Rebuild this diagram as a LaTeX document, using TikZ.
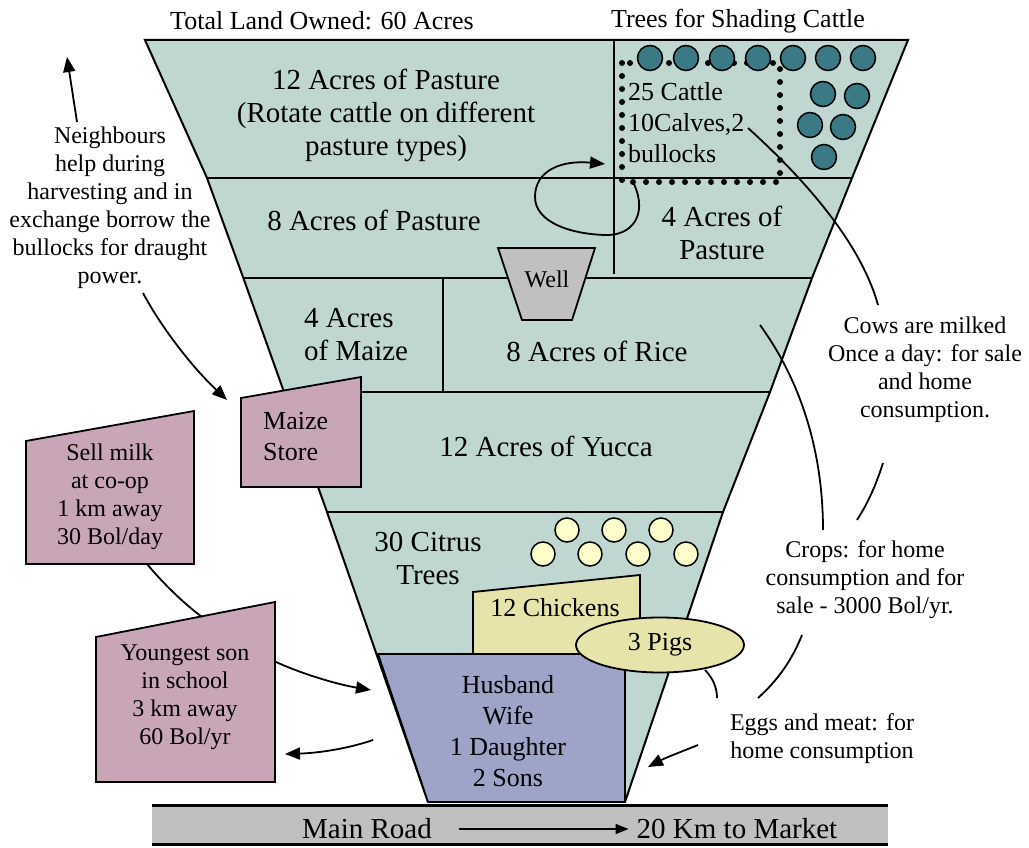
\documentclass[tikz,border=0pt]{standalone}
\usepackage{fontspec}
\setmainfont{Liberation Serif}
\usetikzlibrary{arrows.meta}
\definecolor{field}{RGB}{192,214,208}
\definecolor{teal2}{RGB}{59,122,133}
\definecolor{pinkbox}{RGB}{200,166,184}
\definecolor{famblue}{RGB}{158,163,200}
\definecolor{chick}{RGB}{230,228,170}
\definecolor{citrus}{RGB}{255,255,204}
\definecolor{wellgray}{RGB}{192,192,192}
\newcommand\FSbig{\fontsize{29}{33}\selectfont}
\newcommand\FSmid{\fontsize{26}{31}\selectfont}
\newcommand\FSsmall{\fontsize{24}{28}\selectfont}
\tikzset{
  edge/.style={line width=2pt, line join=miter},
  bandline/.style={line width=2.2pt},
  txt/.style={inner sep=0pt, align=center},
  txtl/.style={inner sep=0pt, align=left, anchor=west},
  big/.style={font=\FSbig},
  mid/.style={font=\FSmid},
  small/.style={font=\FSsmall},
  conn/.style={line width=1.8pt},
  arr/.style={line width=1.8pt, -{Triangle[length=15pt,width=12pt]}},
  cow/.style={fill=teal2, draw=black, line width=1.5pt},
  lemon/.style={fill=citrus, draw=black, line width=1.5pt},
  pen/.style={line width=6pt, line cap=round, dash pattern=on 0pt off 13pt},
}
\begin{document}
\begin{tikzpicture}[x=1pt,y=-1pt]
\useasboundingbox (0,0) rectangle (1029,848);
\fill[white] (0,0) rectangle (1029,848);

% funnel
\path[fill=field] (145,40) -- (207,178) -- (243,277) -- (284,392) -- (327,512) -- (428,802)
  -- (625,802) -- (723,512) -- (770,392) -- (812,278) -- (852,178) -- (908,40) -- cycle;
\draw[edge] (428,802) -- (327,512) -- (284,392) -- (243,277) -- (207,178) -- (145,40)
  -- (908,40) -- (852,178) -- (812,278) -- (770,392) -- (723,512) -- (625,802);
% band lines
\draw[bandline] (207,178) -- (852,178);
\draw[bandline] (243,278) -- (812,278);
\draw[bandline] (284,392) -- (770,392);
\draw[bandline] (327,512) -- (723,512);
\draw[bandline] (614,40) -- (614,274);
\draw[bandline] (443,278) -- (443,392);

% cattle pen
\draw[pen] (622,63) rectangle (780,182);
\foreach \cx/\cy in {650/58,686/58,722/58,758/58,793/58,828/58,863/58,823/94,857/96,810/125,843/127,824/157}
  \draw[cow] (\cx,\cy) circle (12.5);

% rotate loop
\draw[arr] (634,184) .. controls (648,215) and (632,236) .. (605,235)
  .. controls (570,234) and (535,222) .. (535,197)
  .. controls (535,170) and (562,160) .. (605,164);

% well
\draw[fill=wellgray, line width=1.8pt] (498,248) -- (595,248) -- (572,320) -- (522,320) -- cycle;
\node[txt, small] (well) at (547,279) {Well};

% citrus
\foreach \cx in {567,614,661}
  \draw[lemon] (\cx,530) circle (12);
\foreach \cx in {543,590,638,686}
  \draw[lemon] (\cx,554) circle (12);

% chickens
\draw[fill=chick, line width=1.8pt] (473,654) -- (473,592) -- (640,575) -- (640,654);
\node[txt, mid] (chickens) at (555,608) {12 Chickens};

% family
\draw[fill=famblue, line width=1.8pt] (378,654) -- (625,654) -- (625,802) -- (428,802) -- cycle;
\node[txt, mid] (family) at (508,731) {Husband\\Wife\\1 Daughter\\2 Sons};

% pigs
\draw[fill=chick, line width=1.8pt] (660,645) ellipse (84 and 27.5);
\node[txt, mid] (pigs) at (660,645) {3 Pigs};

% maize store
\draw[fill=pinkbox, line width=1.8pt] (241,398) -- (361,377) -- (361,487) -- (241,487) -- cycle;
\node[txtl, mid] (store) at (263,437) {Maize\\Store};

% side boxes
\draw[fill=pinkbox, line width=1.8pt] (26,441) -- (194,411) -- (194,564) -- (26,564) -- cycle;
\node[txt, small] (milk) at (110,497) {Sell milk\\at co-op\\1 km away\\30 Bol/day};
\draw[fill=pinkbox, line width=1.8pt] (96,637) -- (275,602) -- (275,782) -- (96,782) -- cycle;
\node[txt, small] (son) at (185,697) {Youngest son\\in school\\3 km away\\60 Bol/yr};

% road
\fill[wellgray] (152,805) rectangle (888,843);
\draw[line width=3pt] (152,805) -- (888,805);
\draw[line width=3pt] (152,844) -- (888,844);
\node[txt, big] (road) at (367,829) {Main Road};
\node[txt, big] (market) at (737,829) {20 Km to Market};
\draw[line width=1.5pt, -{Triangle[length=13pt,width=10pt]}] ([xshift=27pt]road.east) -- ([xshift=-8pt]market.west);

% field labels
\node[txt, mid] (title) at (322,21) {Total Land Owned: 60 Acres};
\node[txt, mid] (trees) at (738,21) {Trees for Shading Cattle};
\node[txt, big] (p12) at (386,115) {12 Acres of Pasture\\(Rotate cattle on different\\pasture types)};
\node[txtl, mid] (cattle) at (628,123) {25 Cattle\\10Calves,2\\bullocks};
\node[txt, big] (p8) at (374,220) {8 Acres of Pasture};
\node[txt, big] (p4) at (722,233) {4 Acres of\\Pasture};
\node[txtl, big] (maize) at (304,335) {4 Acres\\of Maize};
\node[txt, big] (rice) at (597,351) {8 Acres of Rice};
\node[txt, big] (yucca) at (546,446) {12 Acres of Yucca};
\node[txt, big] (citrus) at (428,558) {30 Citrus\\Trees};

% notes
\node[txt, small] (neigh) at (110,208) {Neighbours\\help during\\harvesting and in\\exchange borrow the\\bullocks for draught\\power.};
\node[txt, small] (cows) at (925,370) {Cows are milked\\Once a day: for sale\\and home\\consumption.};
\node[txt, small] (crops) at (865,580) {Crops: for home\\consumption and for\\sale - 3000 Bol/yr.};
\node[txt, small] (eggs) at (822,739) {Eggs and meat: for\\home consumption};

% connectors
\coordinate (nUp) at (67,57);
\coordinate (nTail) at (77,122);
\draw[arr] (nTail) -- (nUp);
\coordinate (nD1) at (143,293);
\coordinate (nD2) at (227,400);
\draw[arr] (nD1) .. controls (160,325) and (190,365) .. (nD2);

\coordinate (cw1) at (748,128);
\coordinate (cw2) at (878,305);
\draw[conn] (cw1) .. controls (800,175) and (860,240) .. (cw2);
\coordinate (cw3) at (883,463);
\coordinate (cw4) at (857,520);
\draw[conn] (cw3) .. controls (876,485) and (868,503) .. (cw4);

\coordinate (cr1) at (760,325);
\coordinate (cr2) at (823,530);
\draw[conn] (cr1) .. controls (800,380) and (823,450) .. (cr2);
\coordinate (cr3) at (802,635);
\coordinate (cr4) at (758,698);
\draw[conn] (cr3) .. controls (792,660) and (778,680) .. (cr4);

\coordinate (pg1) at (705,670);
\coordinate (pg2) at (717,698);
\draw[conn] (pg1) .. controls (713,678) and (717,688) .. (pg2);
\coordinate (eg1) at (698,745);
\coordinate (eg2) at (648,767);
\draw[arr] (eg1) .. controls (683,751) and (665,758) .. (eg2);

\coordinate (mk1) at (147,564);
\coordinate (mk2) at (202,617);
\draw[conn] (mk1) .. controls (162,582) and (182,602) .. (mk2);
\coordinate (sf1) at (276,662);
\coordinate (sf2) at (371,690);
\draw[arr] (sf1) .. controls (300,673) and (335,684) .. (sf2);
\coordinate (fs1) at (373,740);
\coordinate (fs2) at (285,754);
\draw[arr] (fs1) .. controls (350,748) and (320,753) .. (fs2);
\end{tikzpicture}
\end{document}
